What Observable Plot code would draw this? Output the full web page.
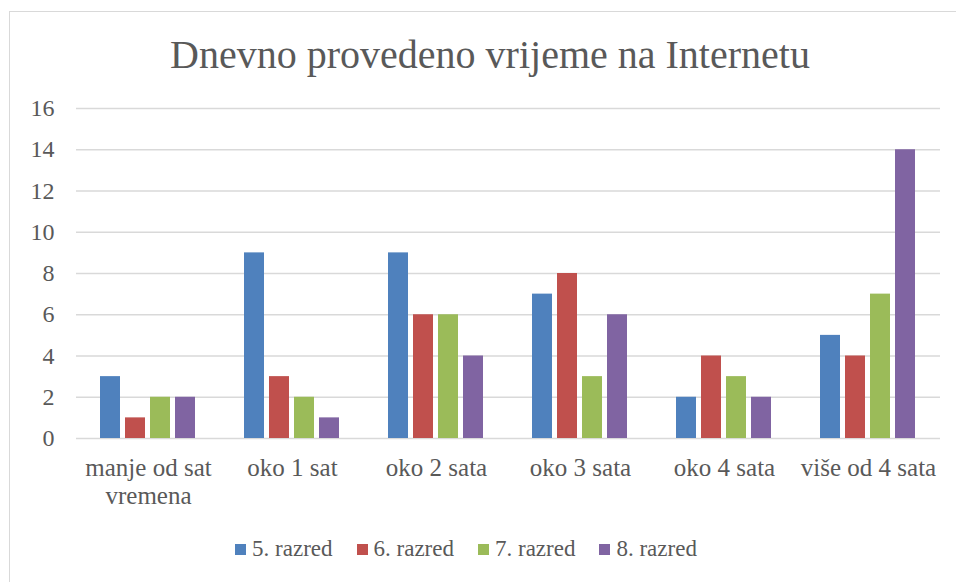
<!DOCTYPE html>
<html>
<head>
<meta charset="utf-8">
<script src="https://cdn.jsdelivr.net/npm/d3@7"></script>
<script src="https://cdn.jsdelivr.net/npm/@observablehq/plot@0.6"></script>
<style>
  html, body { margin: 0; padding: 0; background: #fff; overflow: hidden; }
  body { width: 956px; height: 582px; position: relative; font-family: 'Liberation Serif', serif; color: #595959; }
  #frame { position: absolute; left: 9px; top: 11px; width: 1000px; height: 700px; border: 1.5px solid #d9d9d9; box-sizing: border-box; }
  #title { position: absolute; left: 0; top: 32px; width: 980px; text-align: center; font-size: 40px; line-height: 46px; color: #595959; font-family: 'Liberation Serif', serif; }
  #chart { position: absolute; left: 0; top: 0; }
  #chart svg text { font-family: 'Liberation Serif', serif; }
  #legend { position: absolute; left: 0; top: 535px; width: 932px; display: flex; justify-content: center; gap: 24px; font-size: 23px; line-height: 28px; font-family: 'Liberation Serif', serif; }
  .item { display: flex; align-items: center; }
  .sw { width: 11px; height: 11px; margin-right: 6px; display: inline-block; }
</style>
</head>
<body>
<div id="frame"></div>
<div id="chart"></div>
<div id="title">Dnevno provedeno vrijeme na Internetu</div>
<div id="legend"></div>
<script>
const categories = ["manje od sat vremena", "oko 1 sat", "oko 2 sata", "oko 3 sata", "oko 4 sata", "više od 4 sata"];
const series = ["5. razred", "6. razred", "7. razred", "8. razred"];
const values5 = [3, 9, 9, 7, 2, 5];
const values6 = [1, 3, 6, 8, 4, 4];
const values7 = [2, 2, 6, 3, 3, 7];
const values8 = [2, 1, 4, 6, 2, 14];
const colors = ["#4F81BD", "#C0504D", "#9BBB59", "#8064A2"];
const yTicks = [0, 2, 4, 6, 8, 10, 12, 14, 16];

const seriesValues = [values5, values6, values7, values8];
const data = [];
categories.forEach((c, i) => {
  series.forEach((s, j) => data.push({category: c, series: s, value: seriesValues[j][i]}));
});

const labelFormat = d => d === "manje od sat vremena" ? "manje od sat\nvremena" : d;
const FONT = "'Liberation Serif', serif";

const chart = Plot.plot({
  width: 956,
  height: 582,
  marginTop: 108,
  marginBottom: 144,
  marginLeft: 75,
  marginRight: 15,
  style: {fontFamily: FONT, fontSize: "24px", color: "#595959", background: "transparent"},
  fx: {domain: categories, padding: 0, label: null, axis: null},
  x: {domain: series, paddingInner: 0.19, paddingOuter: 0.87, axis: null},
  y: {domain: [0, 16], label: null, axis: null},
  color: {domain: series, range: colors},
  marks: [
    Plot.ruleY(yTicks, {stroke: "#d9d9d9", strokeWidth: 1.3}),
    Plot.barY(data, {fx: "category", x: "series", y: "value", fill: "series"}),
    Plot.axisY({ticks: yTicks, tickSize: 0, tickPadding: 22, fontSize: 24, fontFamily: FONT, fill: "#595959", label: null}),
    Plot.axisFx({anchor: "bottom", tickSize: 0, tickPadding: 18, tickFormat: labelFormat, lineHeight: 1.1, fontSize: 25, fontFamily: FONT, fill: "#595959", label: null})
  ]
});
document.getElementById("chart").appendChild(chart);

const legend = document.getElementById("legend");
series.forEach((s, j) => {
  const item = document.createElement("div");
  item.className = "item";
  const sw = document.createElement("span");
  sw.className = "sw";
  sw.style.background = colors[j];
  item.appendChild(sw);
  item.appendChild(document.createTextNode(s));
  legend.appendChild(item);
});
</script>
</body>
</html>
